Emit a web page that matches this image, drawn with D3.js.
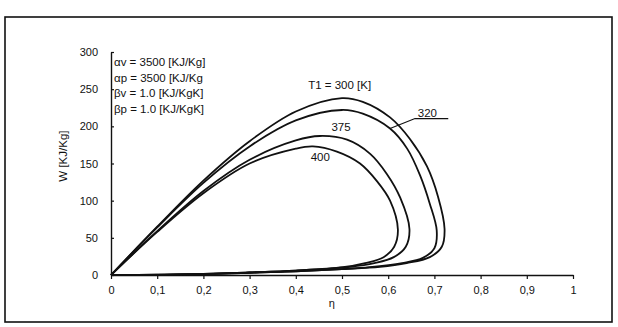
<!DOCTYPE html>
<html>
<head>
<meta charset="utf-8">
<script src="https://cdn.jsdelivr.net/npm/d3@7"></script>
<style>
  body { margin: 0; background: #fff; }
  svg { font-family: "Liberation Sans", Arial, sans-serif; }
</style>
</head>
<body>
<div id="chart"></div>
<script>
// data
const temps = [300, 320, 375, 400];

const eta300 = [0, 0.1, 0.2, 0.3, 0.4, 0.5, 0.545, 0.604, 0.647, 0.684, 0.708, 0.722, 0.716, 0.69, 0.64, 0.582, 0.5, 0.4, 0.3, 0.2, 0.1, 0];
const w300   = [0, 65, 127, 180, 220, 238, 233, 212, 183, 146, 105, 62, 38, 24, 16, 11, 8, 5, 3, 1.2, 0.3, 0];

const eta320 = [0, 0.1, 0.2, 0.3, 0.4, 0.5, 0.545, 0.604, 0.641, 0.669, 0.69, 0.705, 0.7, 0.675, 0.63, 0.56, 0.5, 0.4, 0.3, 0.2, 0.1, 0];
const w320   = [0, 64, 124, 173, 208, 222, 217, 197, 170, 134, 96, 60, 36, 23, 16, 10.5, 8, 5, 3, 1.2, 0.3, 0];

const eta375 = [0, 0.1, 0.2, 0.3, 0.4, 0.452, 0.511, 0.561, 0.597, 0.626, 0.646, 0.638, 0.612, 0.57, 0.517, 0.4, 0.3, 0.2, 0.1, 0];
const w375   = [0, 59, 113, 155, 181, 187, 182, 163, 136, 104, 62, 38, 24, 16, 11, 6, 3.5, 1.5, 0.4, 0];

const eta400 = [0, 0.1, 0.2, 0.3, 0.4, 0.437, 0.489, 0.539, 0.576, 0.604, 0.621, 0.613, 0.59, 0.55, 0.502, 0.4, 0.3, 0.2, 0.1, 0];
const w400   = [0, 58, 110, 150, 170, 173, 166, 150, 126, 100, 61, 38, 24, 16, 10.5, 6, 3.5, 1.5, 0.4, 0];

const xTicks = [0, 0.1, 0.2, 0.3, 0.4, 0.5, 0.6, 0.7, 0.8, 0.9, 1];
const yTicks = [0, 50, 100, 150, 200, 250, 300];
const legendLines = ["\u03b1v = 3500 [KJ/Kg]", "\u03b1p = 3500 [KJ/Kg", "\u03b2v = 1.0 [KJ/KgK]", "\u03b2p = 1.0 [KJ/KgK]"];

const series = [
  {t: temps[0], eta: eta300, w: w300},
  {t: temps[1], eta: eta320, w: w320},
  {t: temps[2], eta: eta375, w: w375},
  {t: temps[3], eta: eta400, w: w400}
];

const W = 618, H = 327;
const margin = {top: 52, right: 45, bottom: 52, left: 111},
  width = W - margin.left - margin.right,
  height = H - margin.top - margin.bottom;

const root = d3.select("#chart")
  .append("svg")
    .attr("width", W)
    .attr("height", H);

// outer frame of the figure
root.append("rect")
  .attr("x", 5).attr("y", 17)
  .attr("width", 607).attr("height", 305)
  .attr("fill", "none")
  .attr("stroke", "#111")
  .attr("stroke-width", 1.6);

const svg = root.append("g")
  .attr("transform", `translate(${margin.left},${margin.top})`);

const x = d3.scaleLinear().domain([0, 1]).range([0, width]);
const y = d3.scaleLinear().domain([0, 300]).range([height, 0]);

// X axis
const xAxis = svg.append("g")
  .attr("transform", `translate(0,${height})`)
  .call(d3.axisBottom(x)
    .tickValues(xTicks)
    .tickSize(4)
    .tickSizeOuter(0)
    .tickPadding(7)
    .tickFormat(d => d3.format("")(d).replace(".", ",")));

// Y axis
const yAxis = svg.append("g")
  .call(d3.axisLeft(y)
    .tickValues(yTicks)
    .tickSizeInner(-3)
    .tickSizeOuter(0)
    .tickPadding(13));

[xAxis, yAxis].forEach(a => {
  a.selectAll("path.domain").attr("stroke", "#111").attr("stroke-width", 1.4);
  a.selectAll(".tick line").attr("stroke", "#111").attr("stroke-width", 1.2);
  a.selectAll(".tick text")
    .attr("fill", "#111")
    .style("font-size", "11px")
    .style("font-family", "'Liberation Sans', Arial, sans-serif");
});

// axis titles
svg.append("text")
  .attr("x", x(0.478))
  .attr("y", height + 32)
  .attr("text-anchor", "middle")
  .style("font-size", "11px")
  .attr("fill", "#111")
  .text("\u03b7");

svg.append("text")
  .attr("transform", `translate(${-44},${y(160)}) rotate(-90)`)
  .attr("text-anchor", "middle")
  .style("font-size", "11.5px")
  .attr("fill", "#111")
  .text("W [KJ/Kg]");

// constants listed in the top-left corner
svg.selectAll("text.legend")
  .data(legendLines)
  .join("text")
    .attr("class", "legend")
    .attr("x", 3)
    .attr("y", (d, i) => 14 + i * 15.5)
    .style("font-size", "11.5px")
    .attr("fill", "#111")
    .text(d => d);

// the four loops
const line = d3.line()
  .x(d => x(d[0]))
  .y(d => y(d[1]))
  .curve(d3.curveCatmullRom.alpha(0.5));

svg.selectAll("path.loop")
  .data(series)
  .join("path")
    .attr("class", "loop")
    .attr("fill", "none")
    .attr("stroke", "#111")
    .attr("stroke-width", 1.8)
    .attr("d", d => line(d.eta.map((e, i) => [e, d.w[i]])));

// curve labels
const lab = (txt, ex, wy, anchor) => svg.append("text")
  .attr("x", x(ex)).attr("y", y(wy))
  .attr("text-anchor", anchor || "middle")
  .style("font-size", "11.5px")
  .attr("fill", "#111")
  .text(txt);

lab("T1 = " + temps[0] + " [K]", 0.495, 250);
lab(temps[2], 0.498, 194);
lab(temps[3], 0.453, 153);
lab(temps[1], 0.664, 213, "start");

// leader line for the 320 label
svg.append("path")
  .attr("fill", "none")
  .attr("stroke", "#111")
  .attr("stroke-width", 1.2)
  .attr("d", d3.line()([
    [x(0.604), y(197)],
    [x(0.658), y(210.5)],
    [x(0.73), y(210.5)]
  ]));
</script>
</body>
</html>
